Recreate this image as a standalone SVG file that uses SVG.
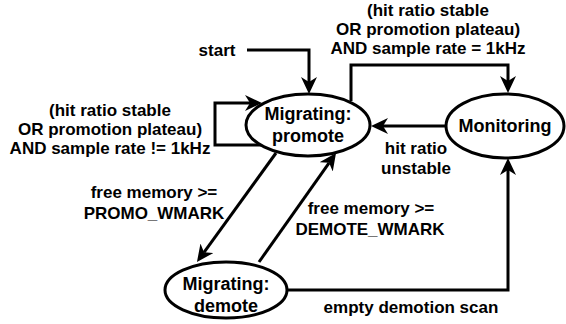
<svg xmlns="http://www.w3.org/2000/svg" width="566" height="324" viewBox="0 0 566 324">
<style>
.node{fill:#fff;stroke:#000;stroke-width:3}
.edge{fill:none;stroke:#000;stroke-width:3}
.nt{font-family:"Liberation Sans",Arial,sans-serif;font-weight:bold;font-size:18px;fill:#000;text-anchor:middle}
.et{font-family:"Liberation Sans",Arial,sans-serif;font-weight:bold;font-size:17px;fill:#000;text-anchor:middle}
</style>
<defs>
<marker id="arr" viewBox="0 0 17 16" refX="5" refY="8" markerWidth="17" markerHeight="16" markerUnits="userSpaceOnUse" orient="auto">
<path d="M0,0 L17,8 L0,16 L5,8 Z" fill="#000"/>
</marker>
</defs>
<rect width="566" height="324" fill="#fff"/>
<g id="connectors">
<path class="edge" d="M247,50 H309 V82" marker-end="url(#arr)"/>
<path class="edge" d="M268,145 H215 V103 H250" marker-end="url(#arr)"/>
<path class="edge" d="M351,101 V65 H508 V81" marker-end="url(#arr)"/>
<path class="edge" d="M446,126 H383" marker-end="url(#arr)"/>
<path class="edge" d="M276,153 L204,252.3" marker-end="url(#arr)"/>
<path class="edge" d="M259,262 L329.1,162.8" marker-end="url(#arr)"/>
<path class="edge" d="M288,290 H508 V170" marker-end="url(#arr)"/>
<text class="et" x="217" y="56">start</text>
<text class="et" x="110" y="116">(hit ratio stable</text>
<text class="et" x="110" y="135">OR promotion plateau)</text>
<text class="et" x="110" y="154">AND sample rate != 1kHz</text>
<text class="et" x="428" y="16">(hit ratio stable</text>
<text class="et" x="428" y="35">OR promotion plateau)</text>
<text class="et" x="428" y="54">AND sample rate = 1kHz</text>
<text class="et" x="416" y="154">hit ratio</text>
<text class="et" x="416" y="174">unstable</text>
<text class="et" x="154" y="198">free memory &gt;=</text>
<text class="et" x="154" y="219">PROMO_WMARK</text>
<text class="et" x="371" y="214">free memory &gt;=</text>
<text class="et" x="370" y="235">DEMOTE_WMARK</text>
<text class="et" x="411" y="313">empty demotion scan</text>
</g>
<g id="promote">
<ellipse class="node" cx="308" cy="125" rx="62" ry="31"/>
<text class="nt" x="308" y="120">Migrating:</text>
<text class="nt" x="308" y="142">promote</text>
</g>
<g id="monitoring">
<ellipse class="node" cx="505" cy="126" rx="59" ry="32"/>
<text class="nt" x="505" y="132">Monitoring</text>
</g>
<g id="demote">
<ellipse class="node" cx="226" cy="290" rx="61" ry="28"/>
<text class="nt" x="226" y="290">Migrating:</text>
<text class="nt" x="226" y="312">demote</text>
</g>
</svg>
